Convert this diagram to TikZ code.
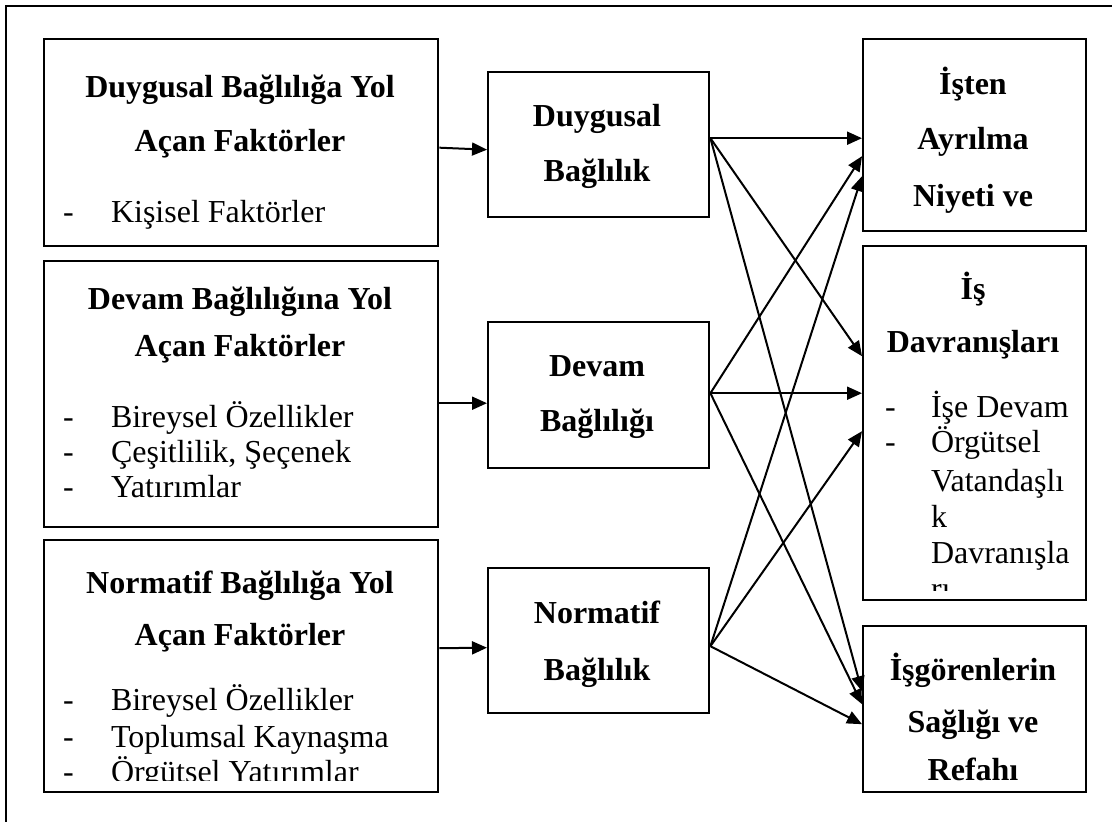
\documentclass[tikz,border=0pt]{standalone}
\usepackage{fontspec}
\setmainfont{Liberation Serif}
\usetikzlibrary{arrows.meta,calc}

\begin{document}
\begin{tikzpicture}[x=0.5pt,y=-0.5pt,->,>={Triangle[length=7.5pt,width=6.5pt]},line width=1pt,
  every node/.style={font=\fontsize{16}{19}\selectfont,inner sep=0pt},
  box/.style={draw,-,line width=1.2pt,anchor=north west},
  ttl/.style={font=\fontsize{16}{19}\selectfont\bfseries,text height=11pt,text depth=1pt},
  itm/.style={anchor=west,text height=11pt,text depth=1pt}]

\useasboundingbox (0,0) rectangle (1112,822);
\draw[-] (6,830) -- (6,6) -- (1120,6);

% boxes
\foreach \name/\x/\y/\w/\h in {l1/43/38/197/103.5, l2/43/260/197/133, l3/43/539/197/126,
  m1/487/71/110.5/72.5, m2/487/321/110.5/73, m3/487/567/110.5/72.5,
  r1/862/38/111.5/96, r2/862/245/111.5/177, r3/862/625/111.5/83}
\node[box,minimum width=\w pt,minimum height=\h pt] (\name) at (\x,\y) {};

% left column
\node[ttl] (l1a) at (240,88) {Duygusal Bağlılığa Yol};
\node[ttl] (l1b) at (240,142) {Açan Faktörler};
\node[itm] (l1c) at (62,213) {-};
\node[itm] (l1d) at (110,213) {Kişisel Faktörler};

\node[ttl] (l2a) at (240,300) {Devam Bağlılığına Yol};
\node[ttl] (l2b) at (240,347) {Açan Faktörler};
\foreach \i/\y/\t in {1/418/Bireysel Özellikler, 2/453/{Çeşitlilik, Şeçenek}, 3/488/Yatırımlar} {
  \node[itm] (l2d\i) at (62,\y) {-};
  \node[itm] (l2t\i) at (110,\y) {\t};
}

\node[ttl] (l3a) at (240,583) {Normatif Bağlılığa Yol};
\node[ttl] (l3b) at (240,635) {Açan Faktörler};
\begin{scope}
\clip (43,539) rectangle (437,780);
\foreach \i/\y/\t in {1/700/Bireysel Özellikler, 2/737/Toplumsal Kaynaşma, 3/772/Örgütsel Yatırımlar} {
  \node[itm] (l3d\i) at (62,\y) {-};
  \node[itm] (l3t\i) at (110,\y) {\t};
}
\end{scope}

% middle column
\node[ttl] (m1a) at (597,117) {Duygusal};
\node[ttl] (m1b) at (597,172) {Bağlılık};
\node[ttl] (m2a) at (597,367) {Devam};
\node[ttl] (m2b) at (597,422) {Bağlılığı};
\node[ttl] (m3a) at (597,613) {Normatif};
\node[ttl] (m3b) at (597,670) {Bağlılık};

% right column
\node[ttl] (r1a) at (973,85) {İşten};
\node[ttl] (r1b) at (973,140) {Ayrılma};
\node[ttl] (r1c) at (973,197) {Niyeti ve};

\node[ttl] (r2a) at (973,290) {İş};
\node[ttl] (r2b) at (973,343) {Davranışları};
\begin{scope}
\clip (862,245) rectangle (1085,590);
\node[itm] (r2d1) at (884,408) {-};
\node[itm] (r2t1) at (930,408) {İşe Devam};
\node[itm] (r2d2) at (884,443) {-};
\foreach \i/\y/\t in {2/443/Örgütsel, 3/482/Vatandaşlı, 4/518/k, 5/553/Davranışla, 6/589/rı}
  \node[itm] (r2t\i) at (930,\y) {\t};
\end{scope}

\node[ttl] (r3a) at (973,670) {İşgörenlerin};
\node[ttl] (r3b) at (973,722) {Sağlığı ve};
\node[ttl] (r3c) at (973,770) {Refahı};

% arrows
\draw ($(l1.east)+(0,5)$) -- ($(m1.west)+(0,5)$);
\draw ($(l2.east)+(0,9)$) -- ($(m2.west)+(0,8)$);
\draw ($(l3.east)+(0,-18)$) -- ($(m3.west)+(0,7)$);

\foreach \src/\sy/\a/\b/\c in {m1/-6.5/3/-67/-18, m2/-2/21/-30/-5, m3/5.5/41/8/15} {
  \draw ($(\src.east)+(0,\sy)$) -- ($(r1.west)+(0,\a)$);
  \draw ($(\src.east)+(0,\sy)$) -- ($(r2.west)+(0,\b)$);
  \draw ($(\src.east)+(0,\sy)$) -- ($(r3.west)+(0,\c)$);
}

\end{tikzpicture}
\end{document}
